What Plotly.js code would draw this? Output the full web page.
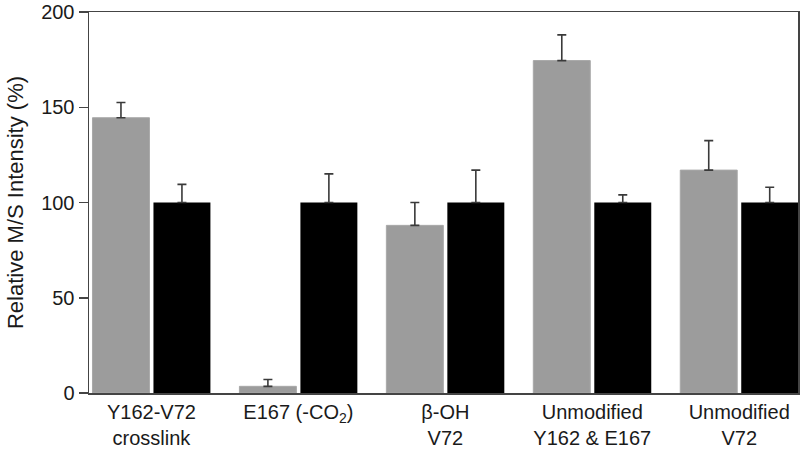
<!DOCTYPE html>
<html>
<head>
<meta charset="utf-8">
<script src="https://cdn.plot.ly/plotly-3.0.1.min.js"></script>
<style>html,body{margin:0;padding:0;background:#fff;}#chart{width:800px;height:449px;}</style>
</head>
<body>
<div id="chart"></div>
<script>
const categories = ["Y162-V72<br>crosslink", "E167 (-CO<sub>2</sub>)", "β-OH<br>V72", "Unmodified<br>Y162 & E167", "Unmodified<br>V72"];
const grayValues = [144.5, 3.5, 88, 174.5, 117];
const grayErrors = [8, 3.6, 12, 13.5, 15.5];
const blackValues = [100, 100, 100, 100, 100];
const blackErrors = [9.5, 15, 17, 4, 8];

const xIdx = categories.map((_, i) => i);

const errStyle = {type: 'data', symmetric: false, arrayminus: [0,0,0,0,0], color: '#3a3a3a', thickness: 1.6, width: 4.5};

const traces = [
  {type: 'bar', x: xIdx, y: grayValues, marker: {color: '#9c9c9c', line: {color: '#a8a8a8', width: 1}},
   error_y: Object.assign({}, errStyle, {array: grayErrors}), hoverinfo: 'y'},
  {type: 'bar', x: xIdx, y: blackValues, marker: {color: '#000000'},
   error_y: Object.assign({}, errStyle, {array: blackErrors}), hoverinfo: 'y'}
];

const layout = {
  width: 800, height: 449,
  margin: {l: 89, r: 2, t: 12, b: 56},
  paper_bgcolor: '#fff', plot_bgcolor: '#fff',
  showlegend: false,
  barmode: 'group', bargap: 0.17, bargroupgap: 0.066,
  font: {family: 'Liberation Sans, Arial, sans-serif', color: '#1a1a1a', size: 22},
  xaxis: {
    range: [-0.425, 4.4], tickvals: xIdx, ticktext: categories,
    showgrid: false, zeroline: false, showline: true, linecolor: '#444', linewidth: 1.5,
    mirror: true, ticks: '', tickfont: {size: 20}, ticklabeloverflow: 'allow'
  },
  yaxis: {
    range: [0, 200], tickvals: [0, 50, 100, 150, 200],
    showgrid: false, zeroline: false, showline: true, linecolor: '#444', linewidth: 1.5,
    mirror: true, ticks: 'outside', ticklen: 9, tickwidth: 1.5, tickcolor: '#444',
    tickfont: {size: 20}, ticklabeloverflow: 'allow',
    title: {text: 'Relative M/S Intensity (%)', font: {size: 22}, standoff: 11}
  }
};

Plotly.newPlot('chart', traces, layout, {displayModeBar: false, staticPlot: true});
</script>
</body>
</html>
